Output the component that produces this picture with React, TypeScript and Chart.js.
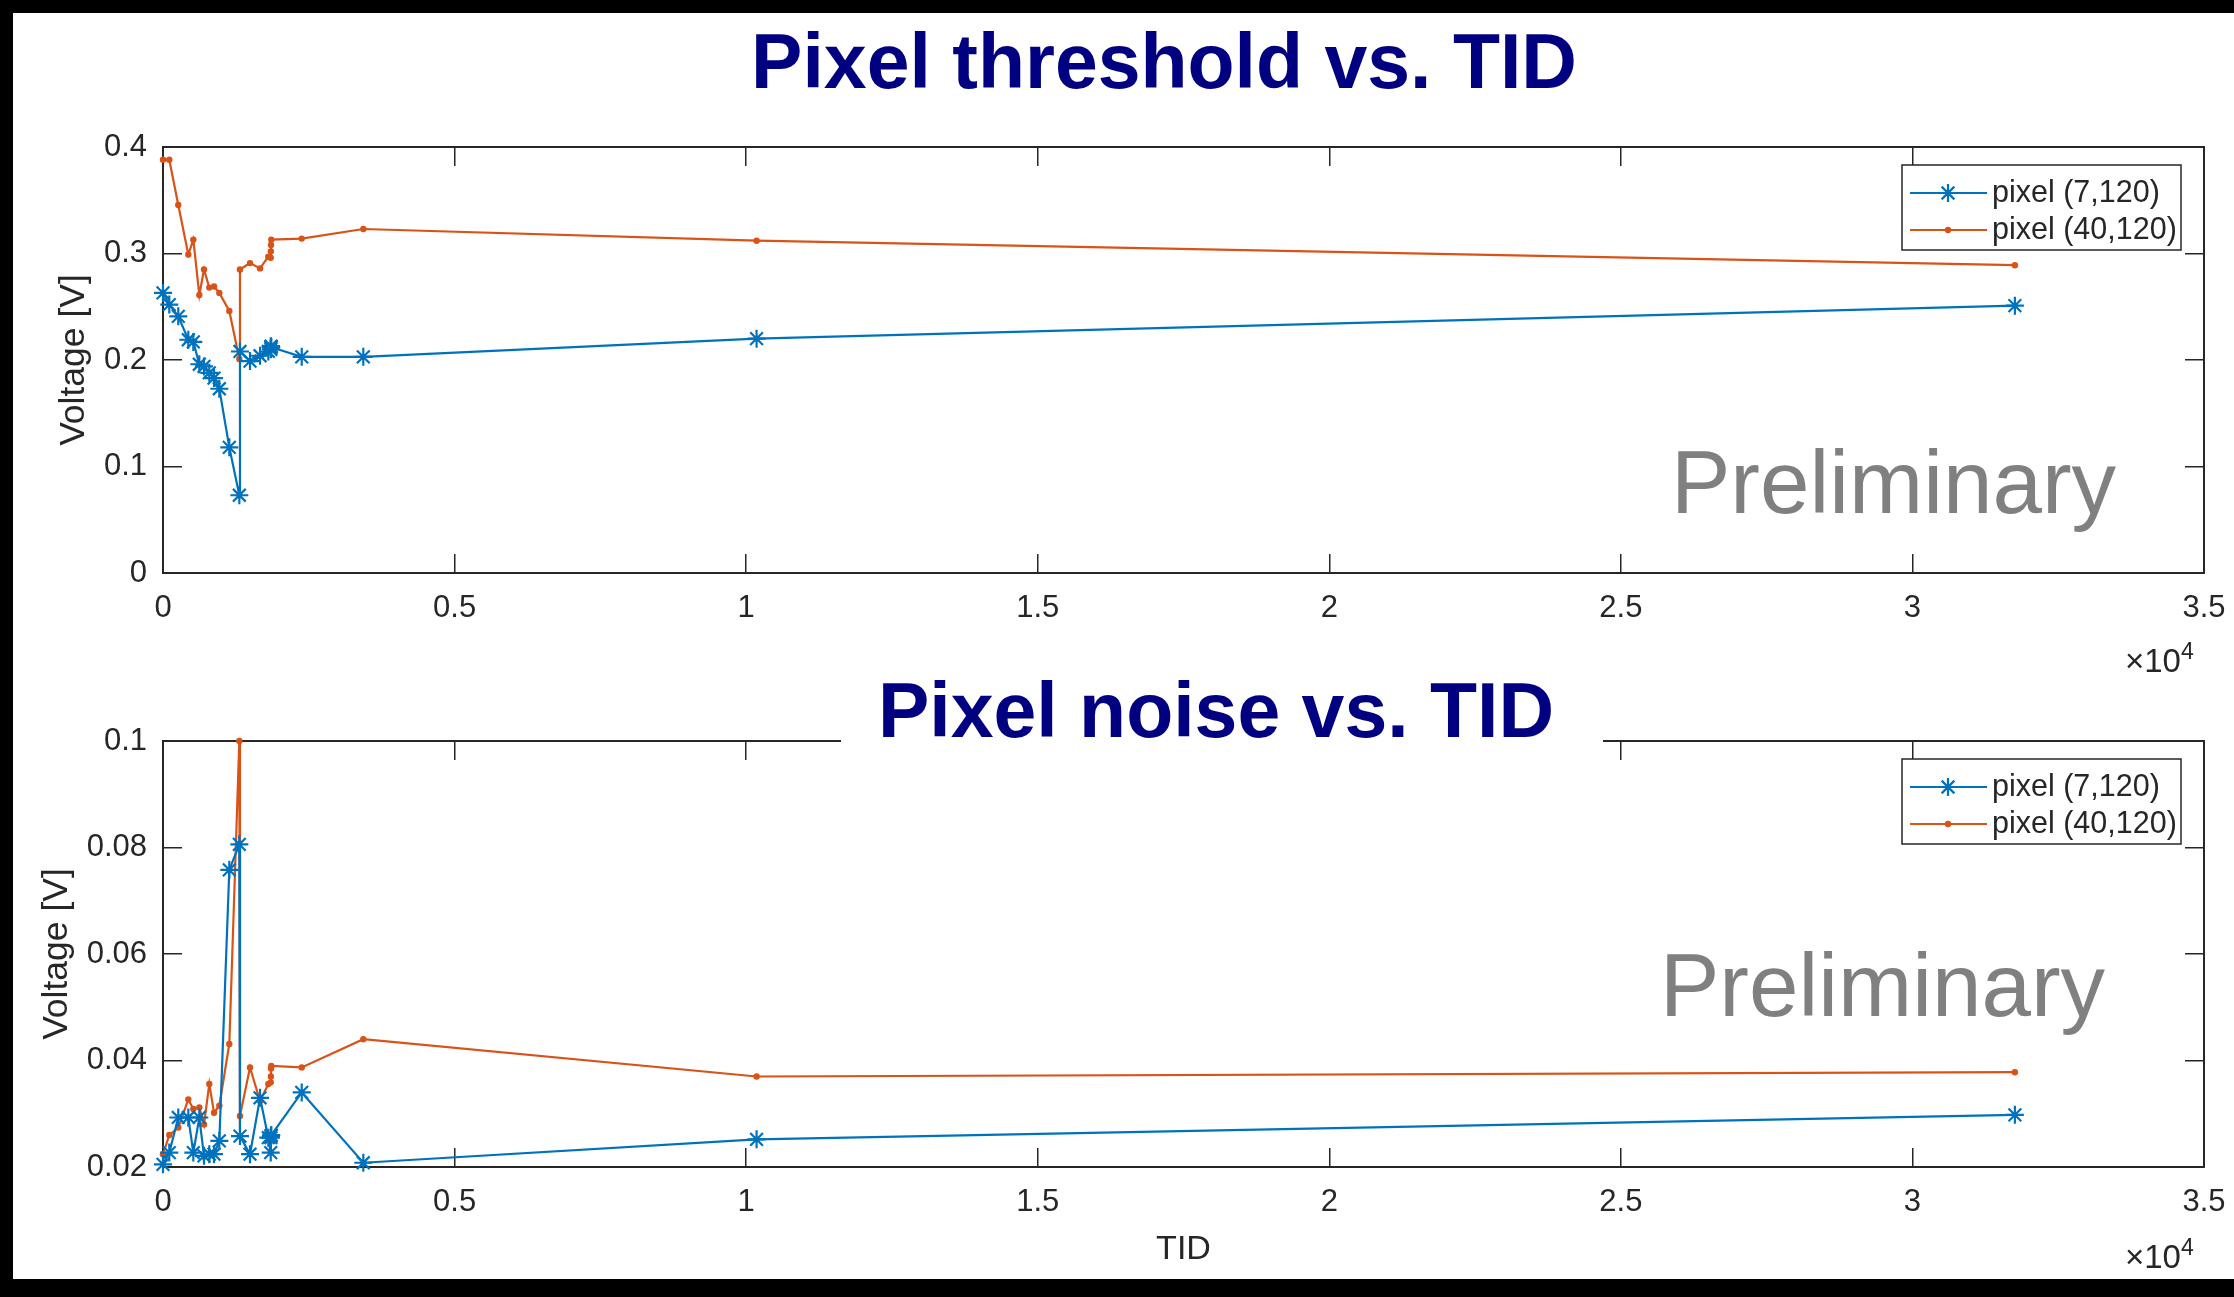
import React, { useEffect, useRef } from 'react';
import { Chart, registerables } from 'chart.js';

Chart.register(...registerables);

// Total ionising dose steps (rad) at which both pixels were measured
const tidSteps = [0, 108, 262, 434, 520, 623, 703, 794, 875, 966, 1137, 1309, 1320, 1492, 1664, 1806, 1847, 1850, 1852, 1857, 2379, 3435, 10179, 31757];

// Threshold voltage [V]
const thresholdPix7 = [0.263, 0.252, 0.241, 0.219, 0.217, 0.196, 0.194, 0.188, 0.183, 0.173, 0.118, 0.073, 0.208, 0.199, 0.204, 0.208, 0.212, 0.210, 0.213, 0.212, 0.203, 0.203, 0.220, 0.251];
const thresholdPix40 = [0.388, 0.388, 0.3455, 0.299, 0.313, 0.261, 0.285, 0.268, 0.269, 0.263, 0.246, 0.201, 0.285, 0.291, 0.286, 0.297, 0.296, 0.302, 0.308, 0.313, 0.314, 0.323, 0.312, 0.289];

// Noise voltage [V]
const noisePix7 = [0.0205, 0.0227, 0.0293, 0.0293, 0.0227, 0.0293, 0.0221, 0.0224, 0.0224, 0.0249, 0.0758, 0.0806, 0.0258, 0.0224, 0.033, 0.0255, 0.0227, 0.0255, 0.0258, 0.026, 0.034, 0.0208, 0.0252, 0.0298];
const noisePix40 = [0.0224, 0.026, 0.0274, 0.0327, 0.0309, 0.0312, 0.028, 0.0356, 0.0302, 0.0315, 0.0431, 0.1, 0.0296, 0.0387, 0.0324, 0.0356, 0.0359, 0.037, 0.0385, 0.039, 0.0387, 0.044, 0.037, 0.0378];

const seriesNames = ['pixel (7,120)', 'pixel (40,120)'];

const tidTicks = [0, 5000, 10000, 15000, 20000, 25000, 30000, 35000];
const tidTickLabels = ['0', '0.5', '1', '1.5', '2', '2.5', '3', '3.5'];
const thresholdTicks = [0, 0.1, 0.2, 0.3, 0.4];
const thresholdTickLabels = ['0', '0.1', '0.2', '0.3', '0.4'];
const noiseTicks = [0.02, 0.04, 0.06, 0.08, 0.1];
const noiseTickLabels = ['0.02', '0.04', '0.06', '0.08', '0.1'];

const BLUE = '#0072BD';
const ORANGE = '#D95319';
const INK = '#262626';
const FONT = '"Liberation Sans", Arial, Helvetica, sans-serif';
const PAGE_W = 2234;
const PAGE_H = 1297;
// Canvases run a little past the right page edge so the last x tick label's
// reserved padding falls outside the visible page.
const CANVAS_W = 2262;
const PLOT_LEFT = 163;
const PLOT_RIGHT = 2204;

// MATLAB-style legend: boxed, top-right inside the axes, line + marker samples
const boxLegend = {
  id: 'boxLegend',
  afterDraw(chart: any, _args: any, opts: any) {
    const { ctx, chartArea } = chart;
    const w = opts.width;
    const h = opts.height;
    const left = chartArea.right - opts.right - w;
    const top = chartArea.top + opts.top;
    ctx.save();
    ctx.fillStyle = '#ffffff';
    ctx.fillRect(left, top, w, h);
    ctx.strokeStyle = INK;
    ctx.lineWidth = 1.5;
    ctx.strokeRect(left, top, w, h);
    chart.data.datasets.forEach((ds: any, i: number) => {
      const cy = top + opts.rowTop + i * opts.rowGap;
      ctx.strokeStyle = ds.borderColor;
      ctx.lineWidth = 2;
      ctx.beginPath();
      ctx.moveTo(left + 8, cy);
      ctx.lineTo(left + 85, cy);
      ctx.stroke();
      const mx = left + 46;
      if (ds.pointStyle === 'star') {
        const r = ds.pointRadius;
        ctx.lineWidth = ds.pointBorderWidth;
        ctx.beginPath();
        for (let k = 0; k < 4; k++) {
          const a = (k * Math.PI) / 4;
          ctx.moveTo(mx - r * Math.cos(a), cy - r * Math.sin(a));
          ctx.lineTo(mx + r * Math.cos(a), cy + r * Math.sin(a));
        }
        ctx.stroke();
      } else {
        ctx.fillStyle = ds.backgroundColor;
        ctx.beginPath();
        ctx.arc(mx, cy, ds.pointRadius, 0, Math.PI * 2);
        ctx.fill();
      }
      ctx.fillStyle = INK;
      ctx.font = `30.5px ${FONT}`;
      ctx.textAlign = 'left';
      ctx.textBaseline = 'middle';
      ctx.fillText(ds.label, left + 90, cy + 1);
    });
    ctx.restore();
  },
};

type PlotSpec = {
  canvasTop: number;
  canvasHeight: number;
  plotTop: number;
  plotBottom: number;
  values7: number[];
  values40: number[];
  yMin: number;
  yMax: number;
  yTicks: number[];
  yTickLabels: string[];
  yTitlePad: number;
  xTitle: string;
  xTitlePad: number;
  legendTop: number;
};

function makeConfig(spec: PlotSpec): any {
  const tickGrid = {
    drawOnChartArea: false,
    drawTicks: true,
    tickLength: -19,
    color: INK,
    lineWidth: 1.5,
  };
  const border = { display: true, color: INK, width: 2 };
  const tickFont = { family: FONT, size: 31 };
  const setTicks = (vals: number[]) => (scale: any) => {
    scale.ticks = vals.map((v) => ({ value: v }));
  };

  return {
    type: 'line',
    data: {
      datasets: [
        {
          label: seriesNames[0],
          data: tidSteps.map((t, i) => ({ x: t, y: spec.values7[i] })),
          borderColor: BLUE,
          backgroundColor: BLUE,
          borderWidth: 2.2,
          pointStyle: 'star',
          pointRadius: 9,
          pointBorderWidth: 2.2,
          pointBorderColor: BLUE,
          pointBackgroundColor: BLUE,
          tension: 0,
          clip: false,
          xAxisID: 'x',
          yAxisID: 'y',
        },
        {
          label: seriesNames[1],
          data: tidSteps.map((t, i) => ({ x: t, y: spec.values40[i] })),
          borderColor: ORANGE,
          backgroundColor: ORANGE,
          borderWidth: 2.2,
          pointStyle: 'circle',
          pointRadius: 3.2,
          pointBorderWidth: 0,
          pointBackgroundColor: ORANGE,
          tension: 0,
          clip: false,
          xAxisID: 'x',
          yAxisID: 'y',
        },
      ],
    },
    options: {
      responsive: false,
      animation: false,
      devicePixelRatio: 1,
      events: [],
      layout: { padding: { left: 0, right: CANVAS_W - PLOT_RIGHT, top: spec.plotTop, bottom: 0 } },
      plugins: {
        legend: { display: false },
        tooltip: { enabled: false },
        title: { display: false },
        boxLegend: { width: 279, height: 85, right: 23, top: spec.legendTop, rowTop: 28, rowGap: 37 },
      },
      scales: {
        x: {
          type: 'linear',
          position: 'bottom',
          min: 0,
          max: 35000,
          afterBuildTicks: setTicks(tidTicks),
          afterFit: (s: any) => {
            s.height = spec.canvasHeight - spec.plotBottom;
          },
          ticks: {
            autoSkip: false,
            maxRotation: 0,
            padding: 36,
            color: INK,
            font: tickFont,
            callback: (_v: any, i: number) => tidTickLabels[i],
          },
          grid: tickGrid,
          border,
          title: {
            display: spec.xTitle !== '',
            text: spec.xTitle,
            color: INK,
            font: { family: FONT, size: 34 },
            padding: { top: 0, bottom: spec.xTitlePad },
          },
        },
        x2: {
          type: 'linear',
          position: 'top',
          min: 0,
          max: 35000,
          afterBuildTicks: setTicks(tidTicks),
          afterFit: (s: any) => {
            s.height = 0;
          },
          ticks: { display: false },
          grid: tickGrid,
          border,
        },
        y: {
          type: 'linear',
          position: 'left',
          min: spec.yMin,
          max: spec.yMax,
          afterBuildTicks: setTicks(spec.yTicks),
          afterFit: (s: any) => {
            s.width = PLOT_LEFT;
          },
          ticks: {
            autoSkip: false,
            padding: 35,
            color: INK,
            font: tickFont,
            callback: (_v: any, i: number) => spec.yTickLabels[i],
          },
          grid: tickGrid,
          border,
          title: {
            display: true,
            text: 'Voltage [V]',
            color: INK,
            font: { family: FONT, size: 35.5 },
            padding: { top: spec.yTitlePad, bottom: 0 },
          },
        },
        y2: {
          type: 'linear',
          position: 'right',
          min: spec.yMin,
          max: spec.yMax,
          afterBuildTicks: setTicks(spec.yTicks),
          afterFit: (s: any) => {
            s.width = 0;
          },
          ticks: { display: false },
          grid: tickGrid,
          border,
        },
      },
    },
    plugins: [boxLegend],
  };
}

function Plot({ spec }: { spec: PlotSpec }) {
  const ref = useRef<HTMLCanvasElement>(null);
  useEffect(() => {
    const chart = new Chart(ref.current as HTMLCanvasElement, makeConfig(spec));
    return () => chart.destroy();
  }, [spec]);
  return (
    <canvas
      ref={ref}
      width={CANVAS_W}
      height={spec.canvasHeight}
      style={{ position: 'absolute', left: 0, top: spec.canvasTop, width: CANVAS_W, height: spec.canvasHeight }}
    />
  );
}

const thresholdPlot: PlotSpec = {
  canvasTop: 0,
  canvasHeight: 680,
  plotTop: 147,
  plotBottom: 573,
  values7: thresholdPix7,
  values40: thresholdPix40,
  yMin: 0,
  yMax: 0.4,
  yTicks: thresholdTicks,
  yTickLabels: thresholdTickLabels,
  yTitlePad: 53,
  xTitle: '',
  xTitlePad: 0,
  legendTop: 18,
};

const noisePlot: PlotSpec = {
  canvasTop: 680,
  canvasHeight: 617,
  plotTop: 61,
  plotBottom: 487,
  values7: noisePix7,
  values40: noisePix40,
  yMin: 0.02,
  yMax: 0.1,
  yTicks: noiseTicks,
  yTickLabels: noiseTickLabels,
  yTitlePad: 36,
  xTitle: 'TID',
  xTitlePad: 27,
  legendTop: 18,
};

const abs = (left: number, top: number): React.CSSProperties => ({ position: 'absolute', left, top, whiteSpace: 'nowrap' });

const slideTitle: React.CSSProperties = {
  fontFamily: FONT,
  fontWeight: 700,
  fontSize: 77,
  lineHeight: '77px',
  color: '#000080',
  transform: 'translateX(-50%)',
};

const watermark: React.CSSProperties = {
  fontFamily: FONT,
  fontSize: 89,
  lineHeight: '89px',
  color: '#808080',
};

const exponent: React.CSSProperties = {
  fontFamily: FONT,
  fontSize: 33,
  lineHeight: '33px',
  color: INK,
};

function Exponent({ left, top }: { left: number; top: number }) {
  return (
    <div style={{ ...abs(left, top), ...exponent }}>
      ×10<sup style={{ fontSize: 23, verticalAlign: 'top', position: 'relative', top: -9 }}>4</sup>
    </div>
  );
}

export default function App() {
  return (
    <div style={{ position: 'fixed', left: 0, top: 0, width: PAGE_W, height: PAGE_H, background: '#000', overflow: 'hidden' }}>
      <div style={{ position: 'absolute', left: 13, top: 13, width: PAGE_W - 13, height: 1266, background: '#fff' }} />
      <Plot spec={thresholdPlot} />
      <Plot spec={noisePlot} />
      <div style={{ ...abs(1164, 23), ...slideTitle }}>Pixel threshold vs. TID</div>
      <div style={{ position: 'absolute', left: 841, top: 655, width: 762, height: 110, background: '#fff' }} />
      <div style={{ ...abs(1216, 672), ...slideTitle }}>Pixel noise vs. TID</div>
      <div style={{ ...abs(1671, 438), ...watermark }}>Preliminary</div>
      <div style={{ ...abs(1660, 941), ...watermark }}>Preliminary</div>
      <Exponent left={2125} top={644} />
      <Exponent left={2125} top={1240} />
    </div>
  );
}
